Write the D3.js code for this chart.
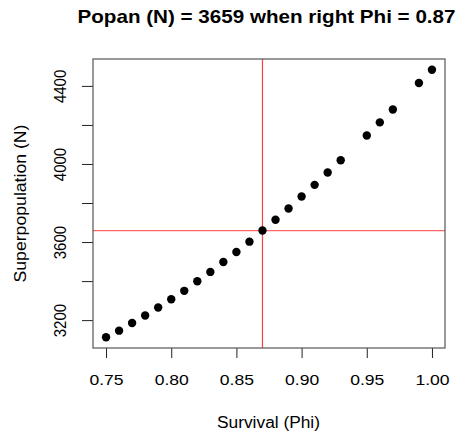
<!DOCTYPE html>
<html>
<head>
<meta charset="utf-8">
<script src="https://cdn.jsdelivr.net/npm/d3@7"></script>
<style>
  body { margin: 0; background: #fff; }
  text { font-family: "Liberation Sans", Arial, sans-serif; fill: #000; }
</style>
</head>
<body>
<div id="chart"></div>
<script>
// survival (Phi) tried, and the superpopulation estimate for each
const phi = [0.75, 0.76, 0.77, 0.78, 0.79, 0.80, 0.81, 0.82, 0.83, 0.84, 0.85, 0.86, 0.87,
             0.88, 0.89, 0.90, 0.91, 0.92, 0.93, 0.95, 0.96, 0.97, 0.99, 1.00];
const superN = [3112, 3146, 3185, 3224, 3265, 3307, 3350, 3399, 3447, 3498, 3549, 3602, 3659,
                3714, 3772, 3833, 3893, 3956, 4019, 4146, 4213, 4279, 4415, 4483];
const xTicks = [0.75, 0.80, 0.85, 0.90, 0.95, 1.00];
const yTicks = [3200, 3400, 3600, 3800, 4000, 4200, 4400];
const yLabels = [3200, 3600, 4000, 4400];
const rightPhi = 0.87, rightN = 3659;

const width = 463, height = 436;
const margin = {top: 59, right: 18, bottom: 88, left: 93};
const w = width - margin.left - margin.right,
      h = height - margin.top - margin.bottom;

const svg = d3.select("#chart").append("svg")
    .attr("width", width)
    .attr("height", height);

const g = svg.append("g")
    .attr("transform", `translate(${margin.left},${margin.top})`);

// R style 4% padding on each side
const xext = d3.extent(phi), yext = d3.extent(superN);
const xpad = (xext[1] - xext[0]) * 0.04, ypad = (yext[1] - yext[0]) * 0.04;

const x = d3.scaleLinear().domain([xext[0] - xpad, xext[1] + xpad]).range([0, w]);
const y = d3.scaleLinear().domain([yext[0] - ypad, yext[1] + ypad]).range([h, 0]);

// x axis
const xAxis = g.append("g")
    .attr("transform", `translate(0,${h})`)
    .call(d3.axisBottom(x).tickValues(xTicks).tickFormat(d3.format(".2f")).tickSize(10).tickPadding(0));
xAxis.select(".domain").remove();
xAxis.selectAll("line").attr("stroke", "#222");
// the reference text is a bit wider than Liberation, stretch it
xAxis.selectAll("text")
    .attr("font-size", 15)
    .attr("font-family", "Liberation Sans, Arial, sans-serif")
    .attr("y", 0).attr("dy", null)
    .attr("transform", "translate(0,37) scale(1.17,1)");

// y axis, labels only every other tick like R does
const yAxis = g.append("g")
    .call(d3.axisLeft(y).tickValues(yTicks).tickSize(11).tickFormat(d => yLabels.includes(d) ? d : ""));
yAxis.select(".domain").remove();
yAxis.selectAll("line").attr("stroke", "#222");
yAxis.selectAll("text")
    .attr("font-size", 15)
    .attr("font-family", "Liberation Sans, Arial, sans-serif")
    .attr("transform", "translate(-27,0) rotate(-90) scale(1,1.1)")
    .attr("x", 0)
    .attr("y", 0)
    .attr("dy", null)
    .attr("text-anchor", "middle");

// reference lines
g.append("line")
    .attr("x1", 0).attr("x2", w)
    .attr("y1", y(rightN)).attr("y2", y(rightN))
    .attr("stroke", "red").attr("stroke-opacity", 0.6).attr("stroke-width", 1.2);
g.append("line")
    .attr("x1", x(rightPhi)).attr("x2", x(rightPhi))
    .attr("y1", 0).attr("y2", h)
    .attr("stroke", "red").attr("stroke-opacity", 0.75).attr("stroke-width", 1.2);

// points
g.selectAll("circle")
    .data(phi.map((p, i) => ({p: p, n: superN[i]})))
    .join("circle")
    .attr("cx", d => x(d.p))
    .attr("cy", d => y(d.n))
    .attr("r", 4.2)
    .attr("fill", "#000");

// box
g.append("rect")
    .attr("width", w).attr("height", h)
    .attr("fill", "none").attr("stroke", "#555").attr("stroke-width", 1.2);

// titles
svg.append("text")
    .attr("x", 266.5).attr("y", 22.5)
    .attr("text-anchor", "middle")
    .attr("font-size", 18.5).attr("font-weight", "bold")
    .attr("textLength", 378).attr("lengthAdjust", "spacingAndGlyphs")
    .text("Popan (N) = 3659 when right Phi = 0.87");

svg.append("text")
    .attr("x", 268.5).attr("y", 427.5)
    .attr("text-anchor", "middle")
    .attr("font-size", 16)
    .attr("textLength", 103).attr("lengthAdjust", "spacingAndGlyphs")
    .text("Survival (Phi)");

svg.append("text")
    .attr("transform", `translate(26,${margin.top + h / 2}) rotate(-90)`)
    .attr("text-anchor", "middle")
    .attr("font-size", 16)
    .attr("textLength", 158).attr("lengthAdjust", "spacingAndGlyphs")
    .text("Superpopulation (N)");
</script>
</body>
</html>
